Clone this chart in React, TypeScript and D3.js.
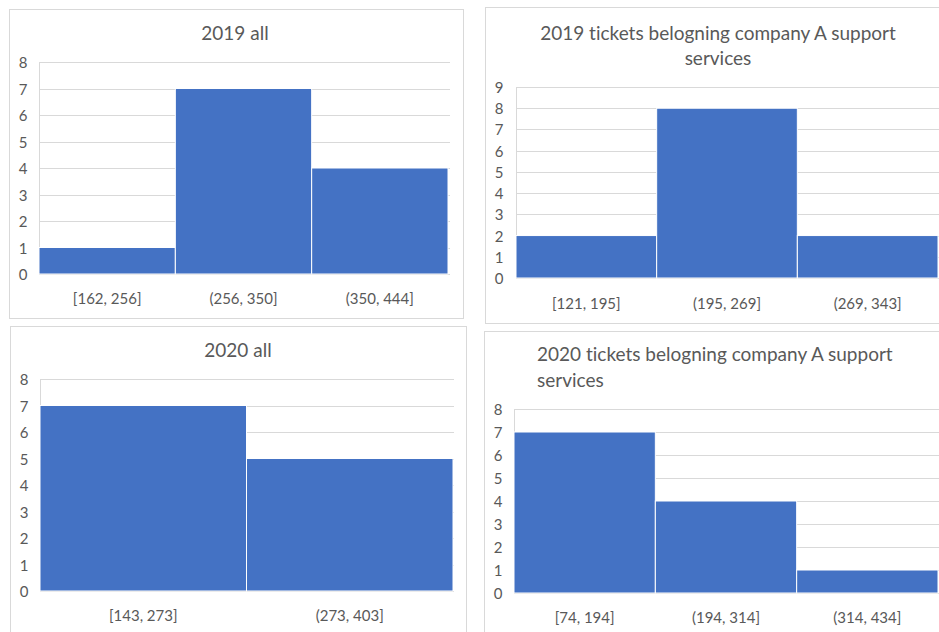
import React from "react";
import * as d3 from "d3";

// Histogram bins and counts for each panel
const bins2019All = ["[162, 256]", "(256, 350]", "(350, 444]"];
const counts2019All = [1, 7, 4];
const bins2019A = ["[121, 195]", "(195, 269]", "(269, 343]"];
const counts2019A = [2, 8, 2];
const bins2020All = ["[143, 273]", "(273, 403]"];
const counts2020All = [7, 5];
const bins2020A = ["[74, 194]", "(194, 314]", "(314, 434]"];
const counts2020A = [7, 4, 1];

const yMax2019All = 8;
const yMax2019A = 9;
const yMax2020All = 8;
const yMax2020A = 8;

const title2019All = ["2019 all"];
const title2019A = ["2019 tickets belogning company A support", "services"];
const title2020All = ["2020 all"];
const title2020A = ["2020 tickets belogning company A support", "services"];

const BAR = "#4472C4";
const GRID = "#D9D9D9";
const TEXT = "#595959";
const FONT = "Lato, 'Open Sans', sans-serif";
const TITLE_SIZE = 19;
const LABEL_SIZE = 15;
const textStyle = { fontVariantLigatures: "none" as const };

type PanelProps = {
  bins: string[];
  counts: number[];
  yMax: number;
  title: string[];
  frame: { x: number; y: number; w: number; h: number };
  plot: { left: number; right: number; barsRight: number; top: number; bottom: number };
  titleX: number;
  titleYs: number[];
  titleAnchor: "middle" | "start";
  labelY: number;
  yLabelX: number;
};

function Panel(p: PanelProps) {
  const x = d3
    .scaleBand<string>()
    .domain(p.bins)
    .range([p.plot.left, p.plot.barsRight])
    .paddingInner(0)
    .paddingOuter(0);
  const y = d3.scaleLinear().domain([0, p.yMax]).range([p.plot.bottom, p.plot.top]);
  const ticks = d3.range(0, p.yMax + 1);
  return (
    <g>
      <rect
        x={p.frame.x + 0.5}
        y={p.frame.y + 0.5}
        width={p.frame.w}
        height={p.frame.h}
        fill="#fff"
        stroke={GRID}
        strokeWidth={1}
      />
      {p.title.map((t, i) => (
        <text
          key={i}
          x={p.titleX}
          y={p.titleYs[i]}
          textAnchor={p.titleAnchor}
          dominantBaseline="central"
          fontFamily={FONT}
          fontSize={TITLE_SIZE}
          fill={TEXT}
          style={textStyle}
        >
          {t}
        </text>
      ))}
      {ticks.map((t) => (
        <g key={t}>
          <line
            x1={p.plot.left}
            x2={p.plot.right}
            y1={Math.round(y(t)) + 0.5}
            y2={Math.round(y(t)) + 0.5}
            stroke={GRID}
            strokeWidth={1}
          />
          <text
            x={p.yLabelX}
            y={y(t)}
            textAnchor="middle"
            dominantBaseline="central"
            fontFamily={FONT}
            fontSize={LABEL_SIZE}
            fill={TEXT}
          >
            {t}
          </text>
        </g>
      ))}
      <line
        x1={p.plot.left + 0.5}
        x2={p.plot.left + 0.5}
        y1={p.plot.top}
        y2={p.plot.bottom}
        stroke={GRID}
      />
      {p.bins.map((b, i) => (
        <rect
          key={b}
          x={x(b)!}
          y={y(p.counts[i])}
          width={x.bandwidth()}
          height={y(0) - y(p.counts[i])}
          fill={BAR}
          stroke="#fff"
          strokeWidth={1}
        />
      ))}
      {p.bins.map((b) => (
        <text
          key={b}
          x={x(b)! + x.bandwidth() / 2}
          y={p.labelY}
          textAnchor="middle"
          dominantBaseline="central"
          fontFamily={FONT}
          fontSize={LABEL_SIZE}
          fill={TEXT}
        >
          {b}
        </text>
      ))}
    </g>
  );
}

export default function App() {
  return (
    <svg
      width={939}
      height={632}
      style={{ position: "absolute", left: 0, top: 0, background: "#fff" }}
    >
      <rect x={0} y={0} width={939} height={632} fill="#fff" />
      <Panel
        bins={bins2019All}
        counts={counts2019All}
        yMax={yMax2019All}
        title={title2019All}
        frame={{ x: 9, y: 9, w: 454, h: 309 }}
        plot={{ left: 39, right: 450, barsRight: 448, top: 62, bottom: 274 }}
        titleX={235}
        titleYs={[32]}
        titleAnchor="middle"
        labelY={298}
        yLabelX={23}
      />
      <Panel
        bins={bins2019A}
        counts={counts2019A}
        yMax={yMax2019A}
        title={title2019A}
        frame={{ x: 485, y: 7, w: 470, h: 316 }}
        plot={{ left: 516, right: 939, barsRight: 938, top: 87, bottom: 278 }}
        titleX={718}
        titleYs={[32, 57]}
        titleAnchor="middle"
        labelY={303}
        yLabelX={499}
      />
      <Panel
        bins={bins2020All}
        counts={counts2020All}
        yMax={yMax2020All}
        title={title2020All}
        frame={{ x: 10, y: 326, w: 456, h: 320 }}
        plot={{ left: 40, right: 454, barsRight: 453, top: 379, bottom: 591 }}
        titleX={238}
        titleYs={[349]}
        titleAnchor="middle"
        labelY={615}
        yLabelX={24}
      />
      <Panel
        bins={bins2020A}
        counts={counts2020A}
        yMax={yMax2020A}
        title={title2020A}
        frame={{ x: 484, y: 331, w: 470, h: 310 }}
        plot={{ left: 514, right: 939, barsRight: 938, top: 409, bottom: 593 }}
        titleX={537}
        titleYs={[353, 379]}
        titleAnchor="start"
        labelY={617}
        yLabelX={498}
      />
    </svg>
  );
}
